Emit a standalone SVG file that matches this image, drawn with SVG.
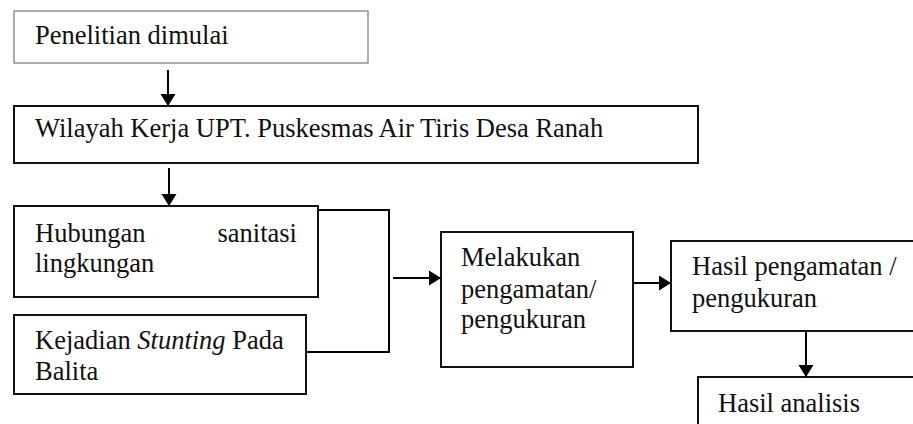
<svg xmlns="http://www.w3.org/2000/svg" width="913" height="424" viewBox="0 0 913 424">
<defs>
<marker id="ah" markerWidth="13" markerHeight="16" refX="12" refY="8" orient="auto" markerUnits="userSpaceOnUse">
<path d="M0,0.5 L12,8 L0,15.5 z" fill="#000"/>
</marker>
<style>
.box{fill:#fff;stroke:#111;stroke-width:2}
.thin{fill:#fff;stroke:#777;stroke-width:1.2}
.t{font-family:'Liberation Serif','Times New Roman',serif;font-size:26.5px;fill:#111}
.ln{fill:none;stroke:#000;stroke-width:2}
</style>
</defs>
<rect width="913" height="424" fill="#fff"/>
<g id="n1"><rect class="thin" x="14" y="11" width="354" height="52"/><text class="t" x="35" y="44">Penelitian dimulai</text></g>
<g id="n2"><rect class="box" x="14" y="106" width="684" height="57"/><text class="t" x="35" y="137">Wilayah Kerja UPT. Puskesmas Air Tiris Desa Ranah</text></g>
<g id="n3"><rect class="box" x="14" y="206" width="304" height="91"/><text class="t" x="35" y="242">Hubungan</text><text class="t" x="297" y="242" text-anchor="end">sanitasi</text><text class="t" x="35" y="272">lingkungan</text></g>
<g id="n4"><rect class="box" x="14" y="315" width="292" height="79"/><text class="t" x="35" y="349">Kejadian <tspan font-style="italic">Stunting</tspan> Pada</text><text class="t" x="35" y="380">Balita</text></g>
<g id="n5"><rect class="box" x="441" y="232" width="192" height="135"/><text class="t" x="461" y="266">Melakukan</text><text class="t" x="461" y="298">pengamatan/</text><text class="t" x="461" y="328">pengukuran</text></g>
<g id="n6"><rect class="box" x="671" y="241" width="260" height="90"/><text class="t" x="692" y="275">Hasil pengamatan /</text><text class="t" x="692" y="307">pengukuran</text></g>
<g id="n7"><rect class="box" x="698" y="377" width="240" height="60"/><text class="t" x="718" y="412">Hasil analisis</text></g>
<g id="connectors">
<line class="ln" x1="168" y1="70" x2="168" y2="106" marker-end="url(#ah)"/>
<line class="ln" x1="169" y1="168" x2="169" y2="206" marker-end="url(#ah)"/>
<polyline class="ln" points="318,210 389,210 389,352 306,352"/>
<line class="ln" x1="393" y1="278" x2="441" y2="278" marker-end="url(#ah)"/>
<line class="ln" x1="633" y1="283" x2="671" y2="283" marker-end="url(#ah)"/>
<line class="ln" x1="806" y1="331" x2="806" y2="377" marker-end="url(#ah)"/>
</g>
</svg>
